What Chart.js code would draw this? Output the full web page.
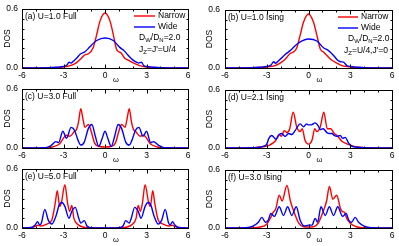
<!DOCTYPE html>
<html>
<head>
<meta charset="utf-8">
<script src="https://cdn.jsdelivr.net/npm/chart.js@4.4.0/dist/chart.umd.min.js"></script>
<style>
body{margin:0;background:#fff;}
#fig{position:relative;width:399px;height:246px;overflow:hidden;background:#fff;}
#fig canvas{position:absolute;}
</style>
</head>
<body>
<div id="fig"></div>
<script>
// tick labels
const xTickLabels = [-6, -3, 0, 3, 6];
const yTickLabels = [0.0, 0.6];

// (a) U=1.0 Full
const omegaNarrowA = [-6,-4,-3.2,-2.8,-2.4,-2.05,-1.7,-1.45,-1.2,-0.85,-0.6,-0.37,0,0.37,0.6,0.83,1.0,1.15,1.43,1.67,2.0,2.5,3.0,4,6];
const dosNarrowA   = [0,0.002,0.008,0.015,0.03,0.055,0.1,0.135,0.145,0.21,0.34,0.475,0.56,0.475,0.34,0.19,0.165,0.155,0.1,0.08,0.055,0.025,0.01,0.002,0];
const omegaWideA = [-6,-4,-3.5,-3.0,-2.75,-2.6,-2.45,-2.3,-2.05,-1.8,-1.45,-1.2,-1.0,-0.6,0,0.6,1.07,1.35,1.67,2.03,2.27,2.45,2.63,2.8,3.0,3.5,4,6];
const dosWideA   = [0,0.003,0.008,0.015,0.03,0.058,0.05,0.068,0.1,0.14,0.165,0.2,0.23,0.28,0.305,0.28,0.21,0.18,0.13,0.08,0.06,0.05,0.058,0.025,0.015,0.008,0.003,0];

// (b) U=1.0 Ising
const omegaNarrowB = [-6,-4,-3,-2.4,-2.04,-1.68,-1.32,-1.08,-0.84,-0.6,-0.36,0,0.36,0.6,0.84,1.08,1.32,1.68,2.04,2.4,3,4,6];
const dosNarrowB   = [0,0.002,0.01,0.025,0.05,0.09,0.15,0.165,0.21,0.34,0.475,0.56,0.475,0.34,0.2,0.165,0.13,0.08,0.05,0.025,0.01,0.002,0];
const omegaWideB = [-6,-4,-3.5,-3,-2.7,-2.5,-2.38,-2.28,-2.04,-1.68,-1.32,-0.96,-0.6,0,0.6,1.08,1.44,1.8,2.1,2.3,2.52,2.76,3,3.5,4,6];
const dosWideB   = [0,0.003,0.008,0.015,0.03,0.065,0.05,0.058,0.09,0.14,0.18,0.23,0.27,0.3,0.28,0.21,0.18,0.13,0.08,0.065,0.06,0.025,0.015,0.008,0.003,0];

// (c) U=3.0 Full
const omegaNarrowC = [-6,-4.2,-3.8,-3.3,-3.0,-2.8,-2.55,-2.2,-2.05,-1.92,-1.75,-1.6,-1.45,-1.2,-1.0,-0.75,-0.4,0,0.4,0.75,1.0,1.2,1.45,1.6,1.75,1.92,2.05,2.2,2.55,2.8,3.0,3.3,3.8,4.2,6];
const dosNarrowC   = [0,0.003,0.01,0.04,0.1,0.13,0.12,0.17,0.19,0.26,0.40,0.3,0.21,0.24,0.17,0.05,0.015,0.01,0.015,0.05,0.17,0.24,0.21,0.3,0.40,0.26,0.19,0.17,0.12,0.13,0.1,0.04,0.01,0.003,0];
const omegaWideC = [-6,-4.3,-3.9,-3.55,-3.35,-3.05,-2.78,-2.45,-2.2,-1.95,-1.75,-1.5,-1.2,-0.95,-0.7,-0.45,-0.2,0,0.2,0.45,0.7,0.95,1.2,1.5,1.75,1.95,2.2,2.45,2.75,3.0,3.3,3.5,3.9,4.3,6];
const dosWideC   = [0,0.003,0.025,0.065,0.055,0.17,0.1,0.21,0.18,0.08,0.03,0.06,0.2,0.24,0.12,0.015,0.1,0.17,0.1,0.015,0.12,0.24,0.2,0.06,0.03,0.08,0.18,0.21,0.12,0.17,0.055,0.065,0.025,0.003,0];

// (d) U=2.1 Ising
const omegaNarrowD = [-6,-4,-3.6,-3.2,-2.8,-2.4,-2.1,-1.95,-1.75,-1.55,-1.35,-1.1,-0.85,-0.6,-0.45,-0.25,0,0.25,0.45,0.6,0.85,1.1,1.35,1.6,1.85,2.05,2.4,2.8,3.2,3.6,4,6];
const dosNarrowD   = [0,0.003,0.01,0.015,0.03,0.07,0.14,0.12,0.18,0.16,0.2,0.37,0.22,0.17,0.2,0.08,0.04,0.08,0.2,0.17,0.22,0.37,0.2,0.2,0.15,0.13,0.07,0.04,0.02,0.01,0.003,0];
const omegaWideD = [-6,-4,-3.3,-3.0,-2.85,-2.64,-2.33,-2.1,-1.92,-1.68,-1.44,-1.2,-0.96,-0.6,-0.35,-0.15,0,0.2,0.48,0.7,0.84,1.05,1.32,1.5,1.68,1.85,2.04,2.28,2.45,2.64,2.88,3.1,3.5,4,6];
const dosWideD   = [0,0.003,0.015,0.04,0.1,0.13,0.09,0.14,0.15,0.12,0.15,0.14,0.18,0.25,0.22,0.25,0.24,0.24,0.26,0.23,0.19,0.2,0.16,0.15,0.15,0.13,0.12,0.13,0.1,0.11,0.05,0.02,0.008,0.003,0];

// (e) U=5.0 Full
const omegaNarrowE = [-6,-5.3,-5.0,-4.85,-4.65,-4.2,-3.85,-3.6,-3.45,-3.28,-3.15,-2.9,-2.7,-2.55,-2.4,-2.25,-2.0,-1.6,-1.0,0,1.0,1.6,2.0,2.25,2.4,2.55,2.7,2.9,3.15,3.28,3.45,3.6,3.85,4.2,4.65,4.85,5.0,5.3,6];
const dosNarrowE   = [0,0.005,0.02,0.028,0.02,0.04,0.08,0.25,0.38,0.22,0.26,0.44,0.25,0.17,0.23,0.1,0.04,0.01,0.003,0,0.003,0.01,0.04,0.1,0.23,0.17,0.25,0.44,0.26,0.22,0.38,0.25,0.08,0.04,0.02,0.028,0.02,0.005,0];
const omegaWideE = [-6,-5.3,-5.05,-4.88,-4.72,-4.6,-4.35,-4.1,-3.85,-3.55,-3.3,-3.1,-2.9,-2.6,-2.4,-2.15,-1.9,-1.75,-1.5,-1.3,-1.0,0,1.0,1.3,1.5,1.75,1.9,2.15,2.4,2.6,2.9,3.1,3.3,3.55,3.85,4.1,4.35,4.6,4.72,4.88,5.05,5.3,6];
const dosWideE   = [0,0.005,0.03,0.065,0.03,0.05,0.19,0.08,0.04,0.12,0.24,0.26,0.22,0.1,0.17,0.21,0.1,0.05,0.075,0.02,0.003,0,0.003,0.02,0.075,0.05,0.1,0.21,0.17,0.1,0.22,0.26,0.24,0.12,0.04,0.08,0.19,0.05,0.03,0.065,0.03,0.005,0];

// (f) U=3.0 Ising
const omegaNarrowF = [-6,-4,-3.5,-3,-2.75,-2.55,-2.35,-2.1,-1.9,-1.55,-1.3,-1.0,-0.7,-0.4,0,0.4,0.7,1.0,1.3,1.5,1.75,2.03,2.3,2.45,2.6,2.75,3,3.5,4,6];
const dosNarrowF   = [0,0.003,0.01,0.04,0.1,0.16,0.2,0.34,0.28,0.44,0.28,0.15,0.05,0.015,0.01,0.015,0.05,0.15,0.28,0.43,0.3,0.34,0.2,0.17,0.16,0.1,0.05,0.01,0.003,0];
const omegaWideF = [-6,-4.5,-4.0,-3.6,-3.35,-3.1,-2.9,-2.7,-2.45,-2.1,-1.8,-1.5,-1.2,-0.88,-0.6,-0.3,0,0.25,0.48,0.65,0.9,1.2,1.5,1.8,2.1,2.45,2.7,2.9,3.1,3.35,3.6,4.0,4.5,6];
const dosWideF   = [0,0.003,0.02,0.06,0.11,0.06,0.08,0.15,0.12,0.22,0.13,0.22,0.13,0.22,0.08,0.02,0.03,0.03,0.1,0.06,0.22,0.13,0.22,0.13,0.22,0.12,0.15,0.08,0.06,0.11,0.06,0.02,0.003,0];

const FONT = '"Liberation Sans", Arial, sans-serif';
Chart.defaults.font.family = FONT;
Chart.defaults.font.size = 8.5;
Chart.defaults.color = '#000';

const panels = [
  {col:0,row:0,label:'(a) U=1.0 Full',n:[omegaNarrowA,dosNarrowA],w:[omegaWideA,dosWideA],legend:[134,155,16,27],
   notes:[[139,38,[['D',0],['W',1],['/D',0],['N',1],['=2.0',0]]],[139,50,[['J',0],['Z',1],['=J\'=U/4',0]]]]},
  {col:1,row:0,label:'(b) U=1.0 Ising',n:[omegaNarrowB,dosNarrowB],w:[omegaWideB,dosWideB],legend:[138,158,17,28],
   notes:[[148,39,[['D',0],['W',1],['/D',0],['N',1],['=2.0',0]]],[144,51,[['J',0],['Z',1],['=U/4,J\'=0',0]]]]},
  {col:0,row:1,label:'(c) U=3.0 Full',n:[omegaNarrowC,dosNarrowC],w:[omegaWideC,dosWideC]},
  {col:1,row:1,label:'(d) U=2.1 Ising',n:[omegaNarrowD,dosNarrowD],w:[omegaWideD,dosWideD]},
  {col:0,row:2,label:'(e) U=5.0 Full',n:[omegaNarrowE,dosNarrowE],w:[omegaWideE,dosWideE]},
  {col:1,row:2,label:'(f) U=3.0 Ising',n:[omegaNarrowF,dosNarrowF],w:[omegaWideF,dosWideF]}
];

function drawSub(ctx, x, y, parts) {
  parts.forEach(([t, sub]) => {
    ctx.font = (sub ? '6px ' : '8.5px ') + FONT;
    ctx.fillText(t, x, sub ? y + 2.5 : y);
    x += ctx.measureText(t).width;
  });
}

const framePlugin = {
  id: 'frame',
  afterDatasetsDraw(chart) {
    const p = chart.options.plugins.frame;
    const {ctx, chartArea: a, scales: {x, y}} = chart;
    const L = Math.round(a.left) + 0.5, R = Math.round(a.right) + 0.5;
    const T = Math.round(a.top) + 0.5, B = Math.round(a.bottom) + 0.5;
    ctx.save();
    ctx.strokeStyle = '#000';
    ctx.lineWidth = 1;
    ctx.beginPath();
    x.ticks.forEach(t => {
      const px = Math.round(x.getPixelForValue(t.value)) + 0.5;
      const len = xTickLabels.includes(t.value) ? 4 : 2;
      ctx.moveTo(px, B); ctx.lineTo(px, B - len);
      ctx.moveTo(px, T); ctx.lineTo(px, T + len);
    });
    y.ticks.forEach(t => {
      const py = Math.round(y.getPixelForValue(t.value)) + 0.5;
      ctx.moveTo(L, py); ctx.lineTo(L + 2, py);
      ctx.moveTo(R, py); ctx.lineTo(R - 2, py);
    });
    ctx.stroke();
    ctx.strokeRect(L, T, R - L, B - T);

    ctx.fillStyle = '#000';
    ctx.textBaseline = 'middle';
    ctx.textAlign = 'left';
    ctx.font = '8.5px ' + FONT;
    ctx.fillText(p.label, a.left + 3, a.top + 8);

    ctx.font = '7.5px ' + FONT;
    ctx.fillText('\u03c9', x.getPixelForValue(0) + 8, a.bottom + 12);

    if (p.legend) {
      const [x1, x2, y1, y2] = p.legend;
      ctx.lineWidth = 1.4;
      ctx.strokeStyle = '#ff0000';
      ctx.beginPath(); ctx.moveTo(x1, y1); ctx.lineTo(x2, y1); ctx.stroke();
      ctx.strokeStyle = '#0000ff';
      ctx.beginPath(); ctx.moveTo(x1, y2); ctx.lineTo(x2, y2); ctx.stroke();
      ctx.font = '8.5px ' + FONT;
      ctx.fillText('Narrow', x2 + 3, y1);
      ctx.fillText('Wide', x2 + 3, y2);
    }
    (p.notes || []).forEach(([nx, ny, parts]) => drawSub(ctx, nx, ny, parts));
    ctx.restore();
  }
};

const fig = document.getElementById('fig');
panels.forEach(p => {
  const cv = document.createElement('canvas');
  const w = p.col ? 199 : 200, h = 86;
  cv.width = w; cv.height = h;
  cv.style.left = (p.col ? 200 : 0) + 'px';
  cv.style.top = (p.row * 80) + 'px';
  cv.style.width = w + 'px'; cv.style.height = h + 'px';
  fig.appendChild(cv);
  const pts = (xs, ys) => xs.map((v, i) => ({x: v, y: ys[i]}));
  const line = (label, color, d) => ({
    label, data: pts(d[0], d[1]), borderColor: color, backgroundColor: color,
    borderWidth: 1.4, pointRadius: 0, fill: false, cubicInterpolationMode: 'monotone'
  });
  new Chart(cv, {
    type: 'line',
    data: {datasets: [line('Wide', '#0000ff', p.w), line('Narrow', '#ff0000', p.n)]},
    options: {
      responsive: false, animation: false, devicePixelRatio: 1,
      layout: {padding: {top: 7, right: p.col ? 7 : 12, left: 0, bottom: 0}},
      plugins: {legend: {display: false}, tooltip: {enabled: false},
        frame: {label: p.label, legend: p.legend, notes: p.notes}},
      scales: {
        x: {type: 'linear', min: -6, max: 6,
          grid: {display: false, drawTicks: false}, border: {display: false},
          ticks: {stepSize: 1, autoSkip: false, maxRotation: 0, padding: 3,
            callback: v => xTickLabels.includes(v) ? String(v) : ''},
          afterFit: s => { s.height = 18; }},
        y: {min: 0, max: 0.6,
          grid: {display: false, drawTicks: false}, border: {display: false},
          title: {display: true, text: 'DOS', padding: {top: p.col ? 5 : 3, bottom: 0}},
          ticks: {stepSize: 0.1, autoSkip: false, padding: p.col ? 5 : 4,
            callback: v => yTickLabels.some(t => Math.abs(t - v) < 1e-6) ? v.toFixed(1) : ''},
          afterFit: s => { s.width = p.col ? 25 : 22; }}
      }
    },
    plugins: [framePlugin]
  });
});
</script>
</body>
</html>
